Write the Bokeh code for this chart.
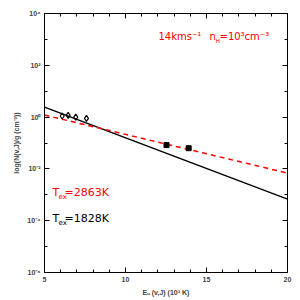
from bokeh.plotting import figure
from bokeh.models import (FixedTicker, LinearAxis, LogAxis, Label)
from bokeh.embed import file_html
from bokeh.resources import INLINE

# data
diamond_E = [6.09, 6.46, 6.93, 7.59]
diamond_N = [1.10, 1.16, 1.00, 0.89]
square_E = [12.53, 13.90]
square_N = [0.083, 0.063]
fit_E = [5.0, 20.0]
fit_black = [2.43, 6.8e-4]   # Tex = 1828 K
fit_red = [1.20, 6.9e-3]     # Tex = 2863 K

x_major = [5, 10, 15, 20]
x_minor = [6, 7, 8, 9, 11, 12, 13, 14, 16, 17, 18, 19]
y_major = [1e-6, 1e-4, 1e-2, 1e0, 1e2, 1e4]
y_minor = [1e-5, 1e-3, 1e-1, 1e1, 1e3]
y_labels = ["10⁻⁶", "10⁻⁴", "10⁻²", "10⁰", "10²", "10⁴"]

FONT = "Liberation Sans"
AFONT = "DejaVu Sans"

p = figure(width=300, height=300, x_range=(5, 20), y_range=(1e-6, 1e4),
           y_axis_type="log", output_backend="svg", toolbar_location=None,
           min_border_left=44, min_border_right=13, min_border_top=13, min_border_bottom=28,
           x_axis_location=None, y_axis_location=None)
p.grid.visible = False
p.outline_line_color = "black"
p.outline_line_width = 1
p.background_fill_color = "white"
p.border_fill_color = "white"

def style(ax, labels=True):
    ax.major_tick_in = 5
    ax.major_tick_out = 0
    ax.minor_tick_in = 3
    ax.minor_tick_out = 0
    ax.axis_line_color = "black"
    ax.major_tick_line_color = "black"
    ax.minor_tick_line_color = "black"
    ax.major_label_text_font = FONT
    ax.major_label_text_font_style = "bold"
    ax.major_label_text_font_size = "7px"
    ax.major_label_standoff = 4 if labels else 0
    ax.axis_label_text_font = FONT
    ax.axis_label_text_font_style = "bold"
    ax.axis_label_text_font_size = "7px"

xb = LinearAxis(ticker=FixedTicker(ticks=x_major, minor_ticks=x_minor))
style(xb)
xb.axis_label = "Eᵤ (v,J) (10³ K)"
xb.axis_label_standoff = 4
p.add_layout(xb, "below")

xt = LinearAxis(ticker=FixedTicker(ticks=x_major, minor_ticks=x_minor))
style(xt, labels=False)
xt.major_label_overrides = {t: "" for t in x_major}
p.add_layout(xt, "above")

yl = LogAxis(ticker=FixedTicker(ticks=y_major, minor_ticks=y_minor))
style(yl)
yl.major_label_overrides = {t: s for t, s in zip(y_major, y_labels)}
yl.axis_label = "log(N(v,J)/g (cm⁻²))"
yl.axis_label_standoff = 4
p.add_layout(yl, "left")

yr = LogAxis(ticker=FixedTicker(ticks=y_major, minor_ticks=y_minor))
style(yr, labels=False)
yr.major_label_overrides = {t: "" for t in y_major}
p.add_layout(yr, "right")

p.line(fit_E, fit_black, line_color="black", line_width=1.5)
p.line(fit_E, fit_red, line_color="red", line_width=1.5, line_dash="5 4")

p.scatter(diamond_E, diamond_N, marker="diamond", size=6, fill_color=None,
          line_color="black", line_width=1.2)
p.scatter(square_E, square_N, marker="square", size=5, fill_color="black",
          line_color="black")
p.segment(square_E, [v * 0.85 for v in square_N], square_E, [v * 1.18 for v in square_N],
          line_color="black", line_width=1)

def lab(x, y, text, color, size="11px"):
    p.add_layout(Label(x=x, y=y, x_units="screen", y_units="screen", text=text,
                       text_color=color, text_font=AFONT, text_font_size=size,
                       text_baseline="middle"))

# annotations (screen coords relative to frame bottom-left)
lab(114, 236, "14kms⁻¹", "red", "10px")
lab(165, 236, "n", "red", "10px")
lab(171, 232, "H", "red", "6px")
lab(175, 236, "=10³cm⁻³", "red", "10px")

lab(8, 80, "T", "red")
lab(14, 76, "ex", "red", "7px")
lab(20, 80, "=2863K", "red")

lab(8, 54, "T", "black")
lab(14, 50, "ex", "black", "7px")
lab(20, 54, "=1828K", "black")

open("out.html", "w").write(file_html(p, INLINE))
